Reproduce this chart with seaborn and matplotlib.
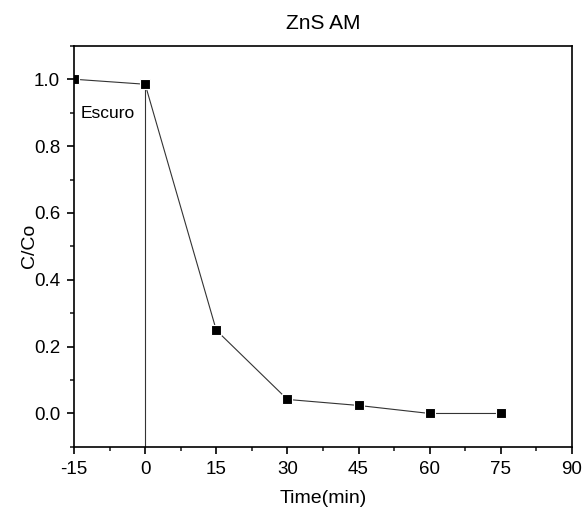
import pandas as pd
import matplotlib.pyplot as plt
import seaborn as sns

# data
time_min = [-15, 0, 15, 30, 45, 60, 75]
c_co = [1.0, 0.985, 0.249, 0.042, 0.024, 0.0, 0.0]

df = pd.DataFrame({'Time(min)': time_min, 'C/Co': c_co})

sns.set_style('ticks')
plt.rcParams['font.family'] = ['Liberation Sans', 'DejaVu Sans']
plt.rcParams['axes.unicode_minus'] = False
plt.rcParams['text.color'] = 'black'
plt.rcParams['axes.labelcolor'] = 'black'

fig = plt.figure(figsize=(5.83, 5.09), dpi=100)
ax = fig.add_axes([0.127, 0.122, 0.854, 0.788])

sns.lineplot(data=df, x='Time(min)', y='C/Co', ax=ax, color='#333333', linewidth=0.8,
             marker='s', markersize=7.5, markerfacecolor='black',
             markeredgecolor='white', markeredgewidth=0.8)

# dark period marker
ax.vlines(0, -0.1, c_co[1], color='#333333', linewidth=0.8, zorder=1)
ax.text(-13.6, 0.898, 'Escuro', fontsize=12.5, va='center', ha='left')

ax.set_xlim(-15, 90)
ax.set_ylim(-0.1, 1.1)
ax.set_xticks(range(-15, 91, 15))
ax.set_xticks([x + 7.5 for x in range(-15, 90, 15)], minor=True)
ax.set_yticks([0.0, 0.2, 0.4, 0.6, 0.8, 1.0])
ax.set_yticks([-0.1, 0.1, 0.3, 0.5, 0.7, 0.9, 1.1], minor=True)
ax.set_yticklabels(['0.0', '0.2', '0.4', '0.6', '0.8', '1.0'])
ax.tick_params(which='major', direction='out', length=5, width=1.2, labelsize=13.5,
               colors='black', pad=5)
ax.tick_params(which='minor', direction='out', length=3, width=1.2)
for s in ax.spines.values():
    s.set_linewidth(1.2)
    s.set_color('black')

ax.set_xlabel('Time(min)', fontsize=14, labelpad=9)
ax.set_ylabel('C/Co', fontsize=14, labelpad=-3)
ax.set_title('ZnS AM', fontsize=15, pad=12)

fig.savefig('out.png', dpi=100)
